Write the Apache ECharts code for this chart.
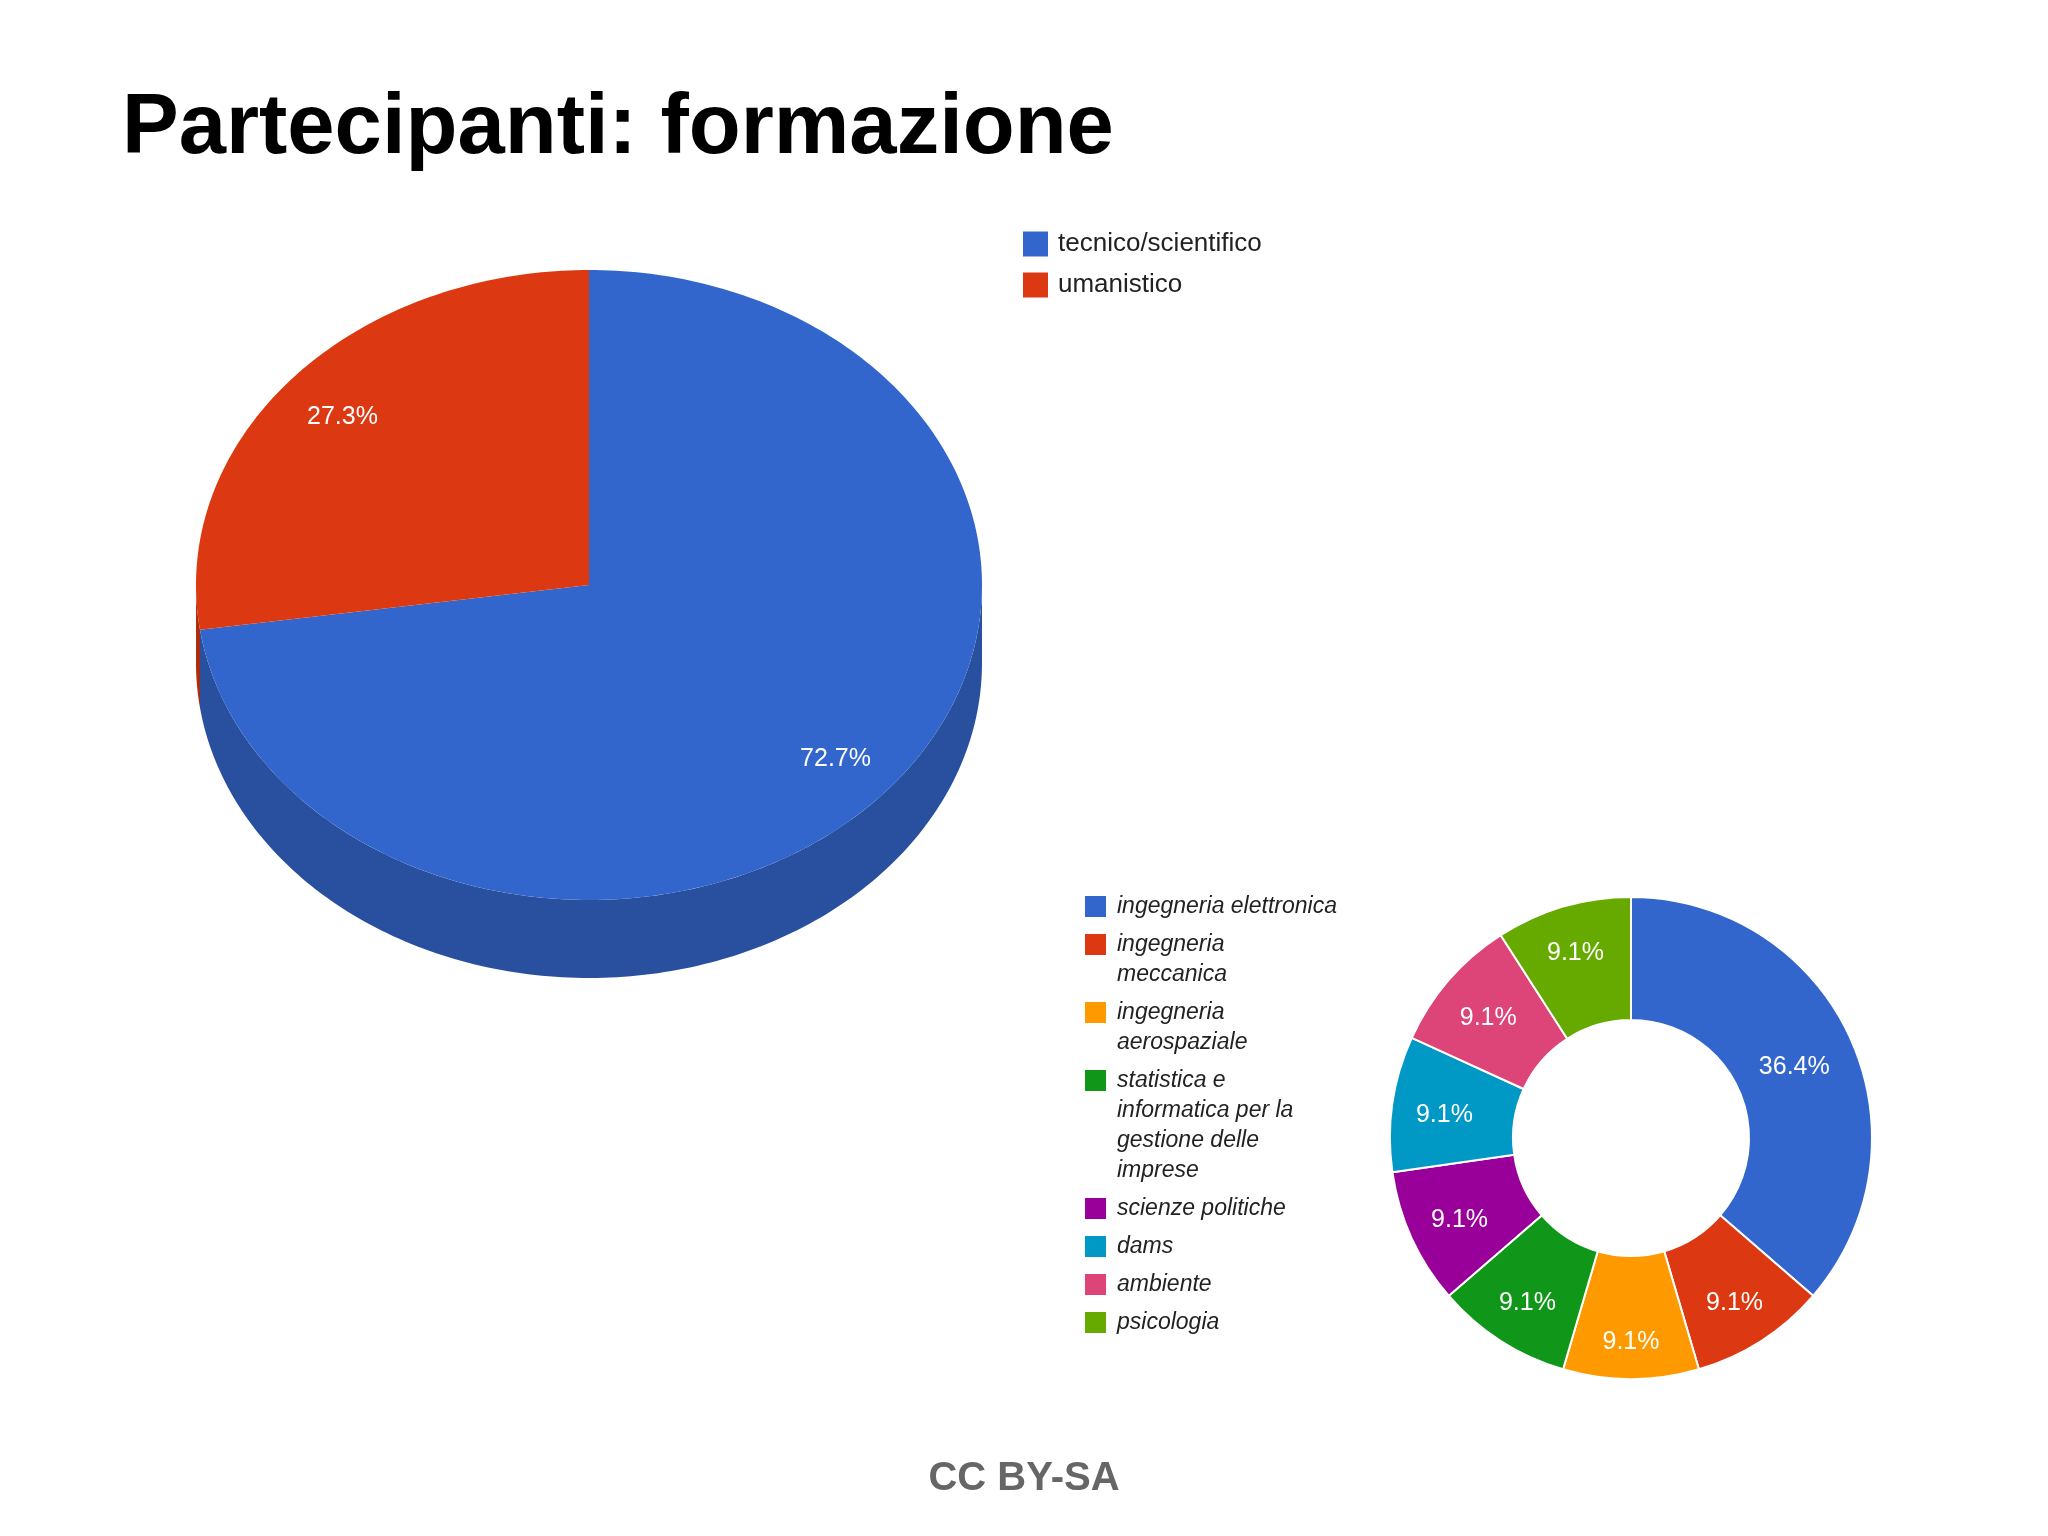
<!DOCTYPE html>
<html>
<head>
<meta charset="utf-8">
<title>Partecipanti: formazione</title>
<script src="https://cdn.jsdelivr.net/npm/echarts@6/dist/echarts.min.js"></script>
<style>
    html, body { margin: 0; padding: 0; background: #ffffff; }
    #chart { width: 2048px; height: 1536px; }
</style>
</head>
<body>
<div id="chart"></div>
<script>
// formazione (3D pie)
const eduNames = ['tecnico/scientifico', 'umanistico'];
const eduValues = [8, 3];
const eduColors = ['#3366CC', '#DC3912'];
const eduSideColors = ['#28509F', '#AC2C0E'];

// corso di laurea (donut)
const subjectNames = [
    'ingegneria elettronica',
    'ingegneria meccanica',
    'ingegneria aerospaziale',
    'statistica e informatica per la gestione delle imprese',
    'scienze politiche',
    'dams',
    'ambiente',
    'psicologia'
];
const subjectLegendLabels = [
    'ingegneria elettronica',
    'ingegneria\nmeccanica',
    'ingegneria\naerospaziale',
    'statistica e\ninformatica per la\ngestione delle\nimprese',
    'scienze politiche',
    'dams',
    'ambiente',
    'psicologia'
];
const subjectValues = [4, 1, 1, 1, 1, 1, 1, 1];
const subjectColors = ['#3366CC', '#DC3912', '#FF9900', '#109618', '#990099', '#0099C6', '#DD4477', '#66AA00'];

const FONT = 'Liberation Sans';

const eduTotal = eduValues.reduce((a, b) => a + b, 0);
const subjectTotal = subjectValues.reduce((a, b) => a + b, 0);

// layout of the tilted pie (Google style 3D)
const pie3d = { cx: 589, cy: 585, rx: 393, ry: 315, depth: 78, labelR: 0.83 };

function ellPoint(deg, dy) {
    const a = deg * Math.PI / 180;
    return [pie3d.cx + pie3d.rx * Math.sin(a), pie3d.cy - pie3d.ry * Math.cos(a) + (dy || 0)];
}

function arcPoints(a0, a1, dy) {
    const pts = [];
    const steps = Math.max(2, Math.ceil(Math.abs(a1 - a0)));
    for (let i = 0; i <= steps; i++) {
        pts.push(ellPoint(a0 + (a1 - a0) * i / steps, dy));
    }
    return pts;
}

function makeSliceRenderer(idx) {
    return function (params, api) {
        let before = 0;
        for (let i = 0; i < idx; i++) before += eduValues[i];
        const value = api.value(0);
        const a0 = before / eduTotal * 360;
        const a1 = (before + value) / eduTotal * 360;
        const children = [];

        // visible front wall: angles between 90 and 270 (clockwise from 12 o'clock)
        const s0 = Math.max(a0, 90), s1 = Math.min(a1, 270);
        if (s1 > s0) {
            const top = arcPoints(s0, s1, 0);
            const bottom = arcPoints(s0, s1, pie3d.depth).reverse();
            children.push({
                type: 'polygon',
                z2: 1,
                shape: { points: top.concat(bottom) },
                style: { fill: eduSideColors[idx] }
            });
        }

        children.push({
            type: 'polygon',
            z2: 10,
            shape: { points: [[pie3d.cx, pie3d.cy]].concat(arcPoints(a0, a1, 0)) },
            style: { fill: eduColors[idx] }
        });

        const mid = (a0 + a1) / 2 * Math.PI / 180;
        children.push({
            type: 'text',
            z2: 20,
            style: {
                text: (value / eduTotal * 100).toFixed(1) + '%',
                x: pie3d.cx + pie3d.labelR * pie3d.rx * Math.sin(mid),
                y: pie3d.cy - pie3d.labelR * pie3d.ry * Math.cos(mid) + 3,
                fill: '#ffffff',
                fontSize: 25,
                fontFamily: FONT,
                align: 'center',
                verticalAlign: 'middle'
            }
        });

        return { type: 'group', children: children };
    };
}

// Google pushes labels of thin slices outward so the text fits inside the ring
function donutLabelNudge(params) {
    let before = 0;
    for (let i = 0; i < params.dataIndex; i++) before += subjectValues[i];
    const share = subjectValues[params.dataIndex] / subjectTotal;
    const mid = (before + subjectValues[params.dataIndex] / 2) / subjectTotal * 2 * Math.PI;
    const push = share < 0.2 ? 6 + 12 * Math.pow(Math.abs(Math.cos(mid)), 8) : -3;
    return { dx: push * Math.sin(mid), dy: -push * Math.cos(mid) + 4 };
}

const chart = echarts.init(document.getElementById('chart'));

const eduSeries = eduNames.map((name, i) => ({
    type: 'custom',
    name: name,
    coordinateSystem: 'none',
    silent: true,
    itemStyle: { color: eduColors[i] },
    data: [eduValues[i]],
    renderItem: makeSliceRenderer(i)
}));

const legends = [
    {
        orient: 'vertical',
        left: 1023,
        top: 231,
        padding: 0,
        itemGap: 15,
        itemWidth: 25,
        itemHeight: 25,
        icon: 'rect',
        selectedMode: false,
        data: eduNames,
        textStyle: { fontSize: 26, color: '#222222', fontFamily: FONT, padding: [0, 0, 0, 5] }
    }
];

// one legend box per subject, so the swatch sits on the first text line
const LINE_H = 30;
let iconTop = 895;
subjectNames.forEach((name, i) => {
    const lines = subjectLegendLabels[i].split('\n').length;
    legends.push({
        orient: 'vertical',
        left: 1083,
        top: iconTop - 3.5 - (lines - 1) * LINE_H,
        padding: 0,
        itemWidth: 23,
        itemHeight: 23,
        icon: 'rect',
        selectedMode: false,
        data: [name],
        formatter: function () {
            return '\n'.repeat(lines - 1) + subjectLegendLabels[i];
        },
        textStyle: {
            fontSize: 23,
            fontStyle: 'italic',
            lineHeight: LINE_H,
            color: '#222222',
            fontFamily: FONT,
            padding: [0, 0, 0, 5]
        }
    });
    iconTop += lines * LINE_H + 8;
});

const option = {
    backgroundColor: '#ffffff',
    animation: false,
    title: [
        {
            text: 'Partecipanti: formazione',
            left: 122,
            top: 87,
            padding: 0,
            textStyle: { fontSize: 85, fontWeight: 'bold', color: '#000000', fontFamily: FONT }
        },
        {
            text: 'CC BY-SA',
            left: 'center',
            top: 1459,
            padding: 0,
            textStyle: { fontSize: 40, fontWeight: 'bold', color: '#666666', fontFamily: FONT }
        }
    ],
    legend: legends,
    series: eduSeries.concat([
        {
            type: 'pie',
            name: 'corso di laurea',
            center: [1631, 1138],
            radius: [118, 241],
            startAngle: 90,
            clockwise: true,
            silent: true,
            color: subjectColors,
            data: subjectNames.map((name, i) => ({ name: name, value: subjectValues[i] })),
            itemStyle: { borderColor: '#ffffff', borderWidth: 2 },
            label: {
                show: true,
                position: 'inside',
                color: '#ffffff',
                fontSize: 25,
                fontFamily: FONT,
                formatter: function (p) {
                    return (p.value / subjectTotal * 100).toFixed(1) + '%';
                }
            },
            labelLayout: donutLabelNudge,
            labelLine: { show: false },
            emphasis: { disabled: true }
        }
    ])
};

chart.setOption(option);
</script>
</body>
</html>
